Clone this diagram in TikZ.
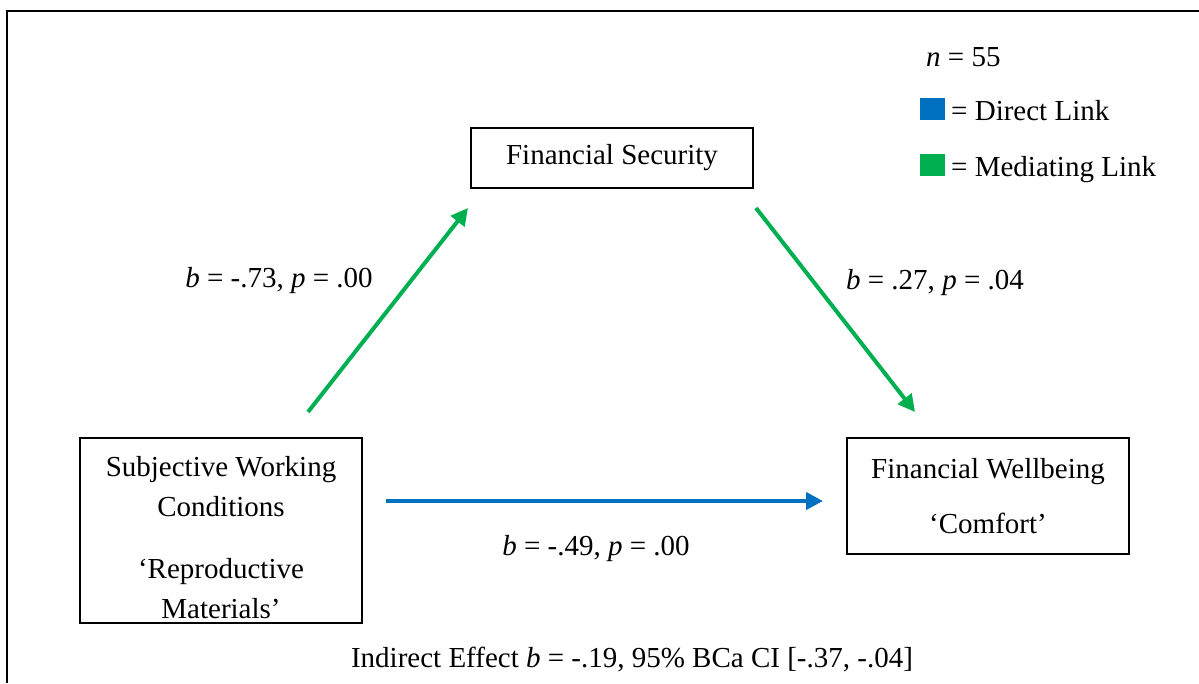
\documentclass[tikz,border=0pt]{standalone}
\usepackage{fontspec}
\setmainfont{Liberation Serif}
\usepackage{tikz}
\usetikzlibrary{positioning, arrows.meta}
\definecolor{linkblue}{RGB}{0,112,192}
\definecolor{linkgreen}{RGB}{0,176,80}

\begin{document}
\begin{tikzpicture}[x=1pt, y=-1pt,
    var/.style={draw=black, line width=1.3pt, minimum width=282pt, inner sep=0pt,
                align=center, font=\fontsize{29}{40}\selectfont},
    lbl/.style={font=\fontsize{29}{35}\selectfont, anchor=base, inner sep=0pt},
    key/.style={lbl, anchor=base west},
    swatch/.style={minimum width=25pt, minimum height=22pt, inner sep=0pt},
    direct/.style={-{Triangle[length=17pt, width=17pt]}, draw=linkblue, line width=4pt},
    mediate/.style={direct, draw=linkgreen}
  ]
  \useasboundingbox (0,0) rectangle (1199,683);
  % frame
  \draw[line width=1.6pt] (7,683) -- (7,11) -- (1199,11);

  % variables
  \node[var, minimum height=60pt] (fs) at (612,158) {Financial Security};
  \node[var, minimum height=185pt] (swc) at (221,530.5)
       {\rule{0pt}{34pt}Subjective Working\\Conditions\\[22pt]‘Reproductive\\Materials’};
  \node[var, minimum height=116pt] (fw) at (988,496)
       {Financial Wellbeing\\[15pt]‘Comfort’};

  % paths
  \coordinate (a0) at (308,412); \coordinate (a1) at (468,208);
  \coordinate (b0) at (756,208); \coordinate (b1) at (915,412);
  \coordinate (c0) at (386,501); \coordinate (c1) at (823,501);
  \draw[mediate] (a0) -- (a1);
  \draw[mediate] (b0) -- (b1);
  \draw[direct] (c0) -- (c1);

  % coefficients
  \node[lbl] (ab) at (279,287) {\textit{b} = -.73, \textit{p} = .00};
  \node[lbl] (bb) at (935,289) {\textit{b} = .27, \textit{p} = .04};
  \node[lbl] (cb) at (596,555) {\textit{b} = -.49, \textit{p} = .00};
  \node[lbl] (ind) at (632,667) {Indirect Effect \textit{b} = -.19, 95\% BCa CI [-.37, -.04]};

  % legend
  \node[key] (nn) at (926,66) {\textit{n} = 55};
  \node[swatch, fill=linkblue] (kd) at (932.5,109) {};
  \node[key] (kdt) at (951,120) {= Direct Link};
  \node[swatch, fill=linkgreen] (km) at (932.5,165) {};
  \node[key] (kmt) at (951,176) {= Mediating Link};
\end{tikzpicture}
\end{document}
